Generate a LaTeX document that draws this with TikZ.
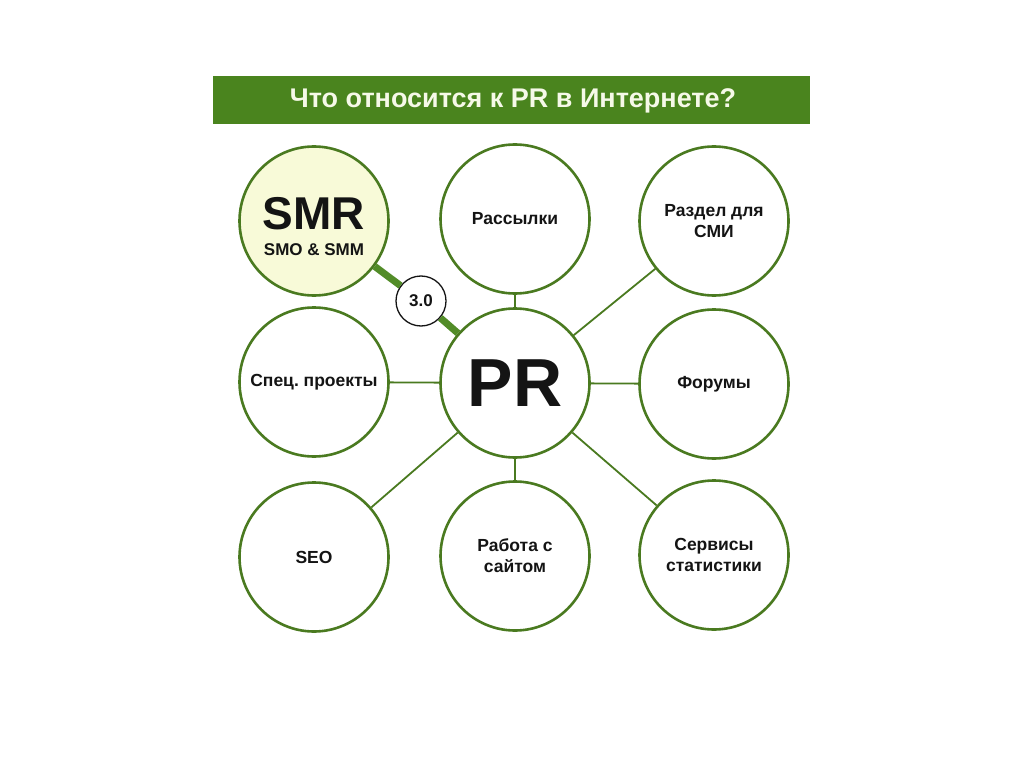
\documentclass[tikz,border=0pt]{standalone}
\usepackage{fontspec}
\setmainfont{Liberation Sans}
\definecolor{cgreen}{RGB}{74,122,32}
\definecolor{barg}{RGB}{74,132,30}
\definecolor{thickg}{RGB}{82,140,40}
\definecolor{smrfill}{RGB}{248,250,216}
\definecolor{titletxt}{RGB}{246,249,232}
\definecolor{txt}{RGB}{20,20,20}
\begin{document}
\begin{tikzpicture}[x=1pt,y=-1pt,
  bubble/.style={circle,draw=cgreen,line width=2.6pt,minimum size=149pt,inner sep=0pt,
    fill=white,align=center,text=txt,font=\bfseries\fontsize{17.5}{21}\selectfont},
  link/.style={draw=cgreen,line width=1.8pt},
  biglink/.style={draw=thickg,line width=7pt}]
\fill[white] (0,0) rectangle (1024,767);
\useasboundingbox (0,0) rectangle (1024,767);
% title bar
\fill[barg] (213,76) rectangle (810,124);
\node[text=titletxt,font=\bfseries\fontsize{27}{30}\selectfont] (title) at (513,101) {Что относится к PR в Интернете?};
% bubbles
\node[bubble,fill=smrfill] (smr) at (314,221) {};
\node[text=txt,font=\bfseries\fontsize{46}{46}\selectfont] (smrt) at (314,214) {SMR};
\node[text=txt,font=\bfseries\fontsize{17}{20}\selectfont] (smrs) at (314,250) {SMO \& SMM};
\node[bubble] (ras) at (515,219) {Рассылки};
\node[bubble] (razd) at (714,221) {Раздел для\\СМИ};
\node[bubble] (spec) at (314,382) {Спец.\ проекты};
\node[bubble] (pr) at (515,383) {\fontsize{68}{68}\selectfont PR};
\node[bubble] (for) at (714,384) {Форумы};
\node[bubble] (seo) at (314,557) {SEO};
\node[bubble] (rab) at (515,556) {Работа с\\сайтом};
\node[bubble] (serv) at (714,555) {Сервисы\\статистики};
% connectors
\draw[link] (ras) -- (pr);
\draw[link] (razd) -- (pr);
\draw[link] (spec) -- (pr);
\draw[link] (for) -- (pr);
\draw[link] (seo) -- (pr);
\draw[link] (rab) -- (pr);
\draw[link] (serv) -- (pr);
% 3.0
\node[circle,draw=txt,line width=1.3pt,minimum size=50pt,inner sep=0pt,fill=white,
  font=\bfseries\fontsize{17}{20}\selectfont,text=txt] (t30) at (421,301) {3.0};
\draw[biglink] (smr) -- (t30);
\draw[biglink] (t30) -- (pr);
\end{tikzpicture}
\end{document}
